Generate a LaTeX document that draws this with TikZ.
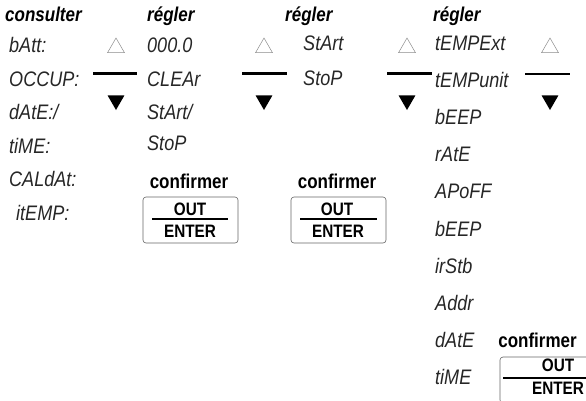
\documentclass[tikz,border=0pt]{standalone}
\usepackage{fontspec}
\setmainfont{Liberation Sans}
\newfontfamily\headfont[FakeStretch=0.85]{Liberation Sans}
\newfontfamily\segfont[FakeStretch=0.86]{Liberation Sans}
\usetikzlibrary{shapes.geometric, positioning}

\begin{document}
\begin{tikzpicture}[x=1pt, y=1pt,
    head/.style={font=\headfont\fontsize{20}{22}\selectfont\bfseries\itshape, inner sep=0pt, anchor=base west},
    confirm/.style={font=\headfont\fontsize{20}{22}\selectfont\bfseries, inner sep=0pt, anchor=base},
    seg/.style={font=\segfont\fontsize{21}{23}\selectfont\itshape, text=black!85, inner sep=0pt, text height=15pt, text depth=0pt, anchor=west},
    up/.style={draw=black!45, line width=0.5pt, regular polygon, regular polygon sides=3, minimum size=19.6pt, inner sep=0pt},
    down/.style={fill=black, regular polygon, regular polygon sides=3, shape border rotate=180, minimum size=19.6pt, inner sep=0pt},
    bar/.style={line width=2.6pt},
    keybox/.style={draw=black!60, line width=0.6pt, rounded corners=3pt, minimum width=95pt, minimum height=46pt, inner sep=0pt},
    keytext/.style={font=\headfont\fontsize{18}{20}\selectfont\bfseries, inner sep=0pt, text height=12.9pt, text depth=0pt}]
    \useasboundingbox (0,0) rectangle (586,-400);

    % consulter
    \node[head] (consult) at (5,-21) {consulter};
    \node[seg] (batt) at (9,-45) {bAtt:};
    \node[below=33.5pt of batt.west, seg] (occup) {OCCUP:};
    \node[below=33.5pt of occup.west, seg] (dateA) {dAtE:/};
    \node[below=33.5pt of dateA.west, seg] (timeA) {tiME:};
    \node[below=33.5pt of timeA.west, seg] (caldat) {CALdAt:};
    \node[below=33.5pt of caldat.west, seg, xshift=7pt] (itemp) {itEMP:};

    \node[up] (upA) at (116,-47.8) {};
    \node[down] (downA) at (116,-100.2) {};
    \draw[bar] (93,-73.5) -- (137,-73.5);

    % regler, 1
    \node[head] (reglA) at (147,-21) {régler};
    \node[seg] (zero) at (147,-45) {000.0};
    \node[below=33.5pt of zero.west, seg] (clear) {CLEAr};
    \node[below=33.5pt of clear.west, seg] (startA) {StArt/};
    \node[below=31pt of startA.west, seg] (stopA) {StoP};

    \node[up] (upB) at (264,-47.8) {};
    \node[down] (downB) at (264,-100.2) {};
    \draw[bar] (242,-73.5) -- (287,-73.5);

    \node[confirm] (confA) at (189,-188) {confirmer};
    \node[keybox] (keyA) at (190.5,-220) {};
    \node[keytext] (outA) at (190,-209) {OUT};
    \node[keytext] (enterA) at (190,-231) {ENTER};
    \draw[bar] (152,-219) -- (228,-219);

    % regler, 2
    \node[head] (reglB) at (285,-21) {régler};
    \node[seg] (startB) at (303,-43) {StArt};
    \node[below=35pt of startB.west, seg] (stopB) {StoP};

    \node[up] (upC) at (407,-47.8) {};
    \node[down] (downC) at (407,-100.2) {};
    \draw[bar] (387,-73.5) -- (432,-73.5);

    \node[confirm] (confB) at (337,-188) {confirmer};
    \node[keybox] (keyB) at (338.5,-220) {};
    \node[keytext] (outB) at (337,-209) {OUT};
    \node[keytext] (enterB) at (338,-231) {ENTER};
    \draw[bar] (300,-219) -- (377,-219);

    % regler, 3
    \node[head] (reglC) at (433,-21) {régler};
    \node[seg] (tempext) at (435,-43) {tEMPExt};
    \node[below=37.1pt of tempext.west, seg] (tempunit) {tEMPunit};
    \node[below=37.1pt of tempunit.west, seg] (beepA) {bEEP};
    \node[below=37.1pt of beepA.west, seg] (rate) {rAtE};
    \node[below=37.1pt of rate.west, seg] (apoff) {APoFF};
    \node[below=37.1pt of apoff.west, seg] (beepB) {bEEP};
    \node[below=37.1pt of beepB.west, seg] (irstb) {irStb};
    \node[below=37.1pt of irstb.west, seg] (addr) {Addr};
    \node[below=37.1pt of addr.west, seg] (dateB) {dAtE};
    \node[below=37.1pt of dateB.west, seg] (timeB) {tiME};

    \node[up] (upD) at (550,-47.8) {};
    \node[down] (downD) at (550,-100.2) {};
    \draw[bar] (525,-74) -- (570,-74);

    \node[confirm] (confC) at (537.5,-347) {confirmer};
    \node[keybox, minimum width=110pt] (keyC) at (555,-380) {};
    \node[keytext] (outC) at (558,-365) {OUT};
    \node[keytext] (enterC) at (558,-388) {ENTER};
    \draw[bar] (503,-378) -- (600,-378);
\end{tikzpicture}
\end{document}
